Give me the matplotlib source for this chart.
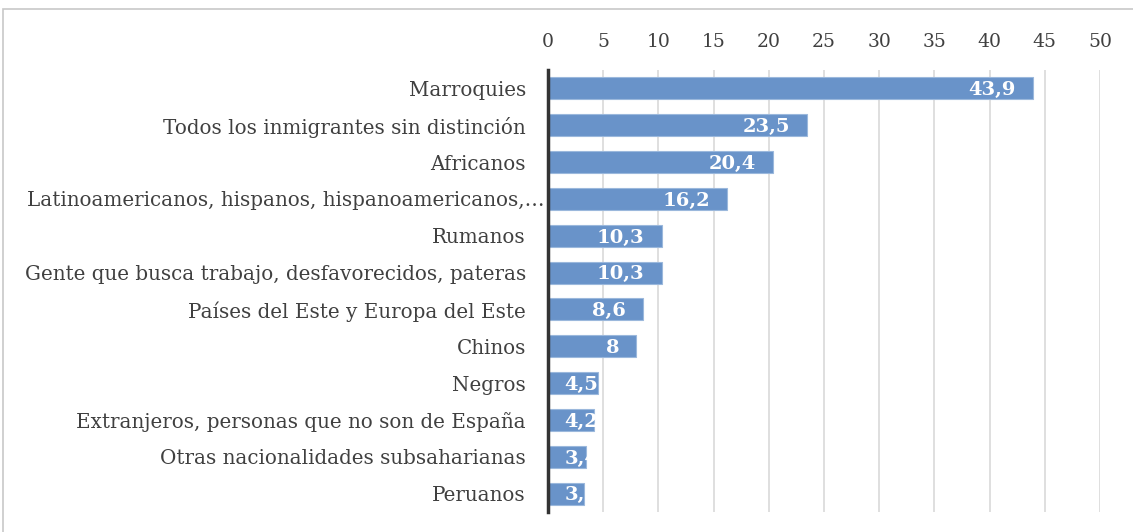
import matplotlib.pyplot as plt
from matplotlib.patches import Rectangle
from matplotlib.transforms import ScaledTranslation

# Categories (top to bottom) and percentages
categorias = [
    "Marroquies",
    "Todos los inmigrantes sin distinción",
    "Africanos",
    "Latinoamericanos, hispanos, hispanoamericanos,…",
    "Rumanos",
    "Gente que busca trabajo, desfavorecidos, pateras",
    "Países del Este y Europa del Este",
    "Chinos",
    "Negros",
    "Extranjeros, personas que no son de España",
    "Otras nacionalidades subsaharianas",
    "Peruanos",
]
valores = [43.9, 23.5, 20.4, 16.2, 10.3, 10.3, 8.6, 8.0, 4.5, 4.2, 3.4, 3.3]
ticks = [0, 5, 10, 15, 20, 25, 30, 35, 40, 45, 50]

plt.rcParams['font.family'] = ['DejaVu Serif']

fig = plt.figure(figsize=(11.33, 5.32), dpi=100)
ax = fig.add_axes([548 / 1133, 1 - 512 / 532, 552 / 1133, 442 / 532])

# outer frame of the chart area
fig.patches.append(Rectangle((3 / 1133, -0.01), 1.0, 1 - 9 / 532 + 0.01,
                             transform=fig.transFigure, fill=False,
                             edgecolor='#c8c8c8', lw=1.2))

pos = list(range(len(categorias)))
bars = ax.barh(pos, valores, height=0.6, color='#6993c9', edgecolor='#9bb8dc',
               lw=0.8, zorder=3)

for b, v in zip(bars, valores):
    txt = f"{v:g}".replace('.', ',')
    y = b.get_y() + b.get_height() / 2 + 0.05
    if v < 5:
        # label does not fit: Excel pins it near the axis and the bar clips it
        t = ax.text(1.5, y, txt, ha='left', va='center', color='white',
                    fontweight='bold', fontsize=14, zorder=4)
    else:
        t = ax.text(v - 1.55, y, txt, ha='right', va='center', color='white',
                    fontweight='bold', fontsize=14, zorder=4)
    t.set_clip_path(b)

ax.set_yticks(pos)
ax.set_yticklabels(categorias, fontsize=14.3, color='#404040')
ax.set_ylim(len(categorias) - 0.5, -0.5)
ax.set_xlim(0, 50)
ax.set_xticks(ticks)
ax.xaxis.tick_top()
ax.tick_params(axis='x', length=0, labelsize=13.5, pad=14, labelcolor='#404040')
ax.tick_params(axis='y', length=0, pad=16)

# the truncated label runs right up to the axis line
lbl = ax.get_yticklabels()[3]
lbl.set_transform(lbl.get_transform() + ScaledTranslation(0.19, 0, fig.dpi_scale_trans))

ax.grid(axis='x', color='#d9d9d9', lw=1.2, zorder=0)
for s in ['top', 'right', 'bottom']:
    ax.spines[s].set_visible(False)
ax.spines['left'].set_color('#333333')
ax.spines['left'].set_linewidth(2.5)
ax.spines['left'].set_zorder(5)

plt.savefig("out.png", dpi=100)
